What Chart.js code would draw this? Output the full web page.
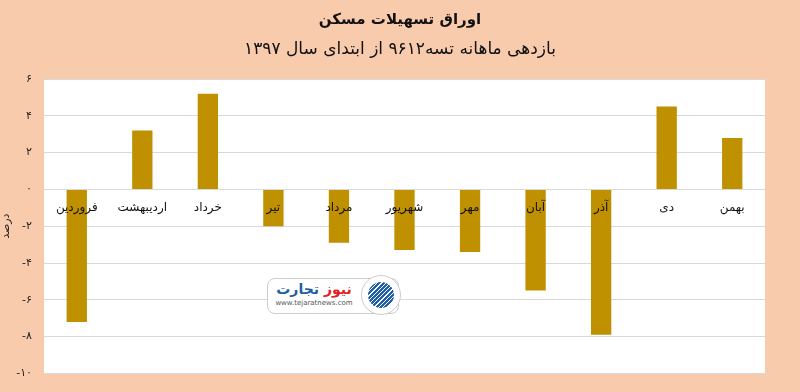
<!DOCTYPE html>
<html>
<head>
<meta charset="utf-8">
<script src="https://cdn.jsdelivr.net/npm/chart.js@4"></script>
<style>
  body { margin: 0; background: #F8CBAD; }
  #wrap { position: relative; width: 800px; height: 392px; }
  #logo {
    position: absolute; left: 267px; top: 278px; width: 92px; height: 34px; padding-right: 38px;
    background: #fff; border: 1px solid #ccc; border-radius: 8px;
    font-family: "DejaVu Sans"; text-align: center;
  }
  #logo .t { font-size: 14px; font-weight: bold; color: #1f5fa8; line-height: 20px; direction: rtl; }
  #logo .t span { color: #d22; }
  #logo .u { font-size: 7px; color: #555; }
  #icon {
    position: absolute; left: 361px; top: 275px; width: 38px; height: 38px; border-radius: 50%;
    background: #fff; border: 1px solid #ccc;
  }
  #icon div {
    position: absolute; left: 6px; top: 6px; width: 26px; height: 26px; border-radius: 50%;
    background: repeating-linear-gradient(-45deg, #1f5fa8 0 2px, #fff 2px 3px);
  }
</style>
</head>
<body>
<div id="wrap">
  <canvas id="chart"></canvas>
  <div id="logo"><div class="t"><span>نیوز</span> تجارت</div><div class="u">www.tejaratnews.com</div></div>
  <div id="icon"><div></div></div>
</div>
<script>
var titleText = 'اوراق تسهیلات مسکن';
var subtitleText = 'بازدهی ماهانه تسه۹۶۱۲ از ابتدای سال ۱۳۹۷';
var months = ['فروردین', 'اردیبهشت', 'خرداد', 'تیر', 'مرداد', 'شهریور', 'مهر', 'آبان', 'آذر', 'دی', 'بهمن'];
var returns = [-7.2, 3.2, 5.2, -2.0, -2.9, -3.3, -3.4, -5.5, -7.9, 4.5, 2.8];
var yTicks = [6, 4, 2, 0, -2, -4, -6, -8, -10];

function faDigits(v) {
  return String(v).replace(/[0-9]/g, function (d) { return '۰۱۲۳۴۵۶۷۸۹'[d]; });
}

var plotBg = {
  id: 'plotBg',
  beforeDraw: function (chart) {
    var a = chart.chartArea, c = chart.ctx;
    c.save();
    c.fillStyle = '#ffffff';
    c.fillRect(a.left, a.top, a.right - a.left, a.bottom - a.top);
    c.restore();
  }
};

// titles centred on the whole canvas
var titles = {
  id: 'titles',
  afterDraw: function (chart) {
    var c = chart.ctx, mid = chart.width / 2;
    c.save();
    c.fillStyle = '#111';
    c.textAlign = 'center';
    c.textBaseline = 'middle';
    c.font = 'bold 15px "DejaVu Sans"';
    c.fillText(titleText, mid, 20);
    c.font = '17px "DejaVu Sans"';
    c.fillText(subtitleText, mid, 50);
    c.restore();
  }
};

// category names sit just under the zero line, drawn over the bars
var monthLabels = {
  id: 'monthLabels',
  afterDatasetsDraw: function (chart) {
    var x = chart.scales.x, y = chart.scales.y, c = chart.ctx;
    var top = y.getPixelForValue(0) + 12;
    c.save();
    c.font = '12px "DejaVu Sans"';
    c.fillStyle = '#111';
    c.textAlign = 'center';
    c.textBaseline = 'top';
    chart.data.labels.forEach(function (lab, i) {
      c.fillText(lab, x.getPixelForValue(i), top);
    });
    c.restore();
  }
};

new Chart(document.getElementById('chart'), {
  type: 'bar',
  data: {
    labels: months,
    datasets: [{
      data: returns,
      backgroundColor: '#BF9000',
      categoryPercentage: 1,
      barPercentage: 0.31
    }]
  },
  plugins: [plotBg, monthLabels, titles],
  options: {
    responsive: true,
    maintainAspectRatio: false,
    animation: false,
    layout: { padding: { left: 0, right: 35, top: 79, bottom: 14 } },
    plugins: {
      legend: { display: false },
      tooltip: { enabled: false }
    },
    scales: {
      x: {
        display: false
      },
      y: {
        min: -10,
        max: 6,
        afterBuildTicks: function (scale) {
          scale.ticks = yTicks.map(function (v) { return { value: v }; });
        },
        afterFit: function (scale) { scale.width = 44; },
        grid: { color: '#D9D9D9', drawTicks: false },
        border: { display: false },
        title: {
          display: true,
          text: 'درصد',
          color: '#222',
          font: { family: 'DejaVu Sans', size: 11 },
          padding: 0
        },
        ticks: {
          color: '#222',
          font: { family: 'DejaVu Sans', size: 11 },
          padding: 12,
          callback: function (v) { return faDigits(v); }
        }
      }
    }
  }
});
</script>
</body>
</html>
